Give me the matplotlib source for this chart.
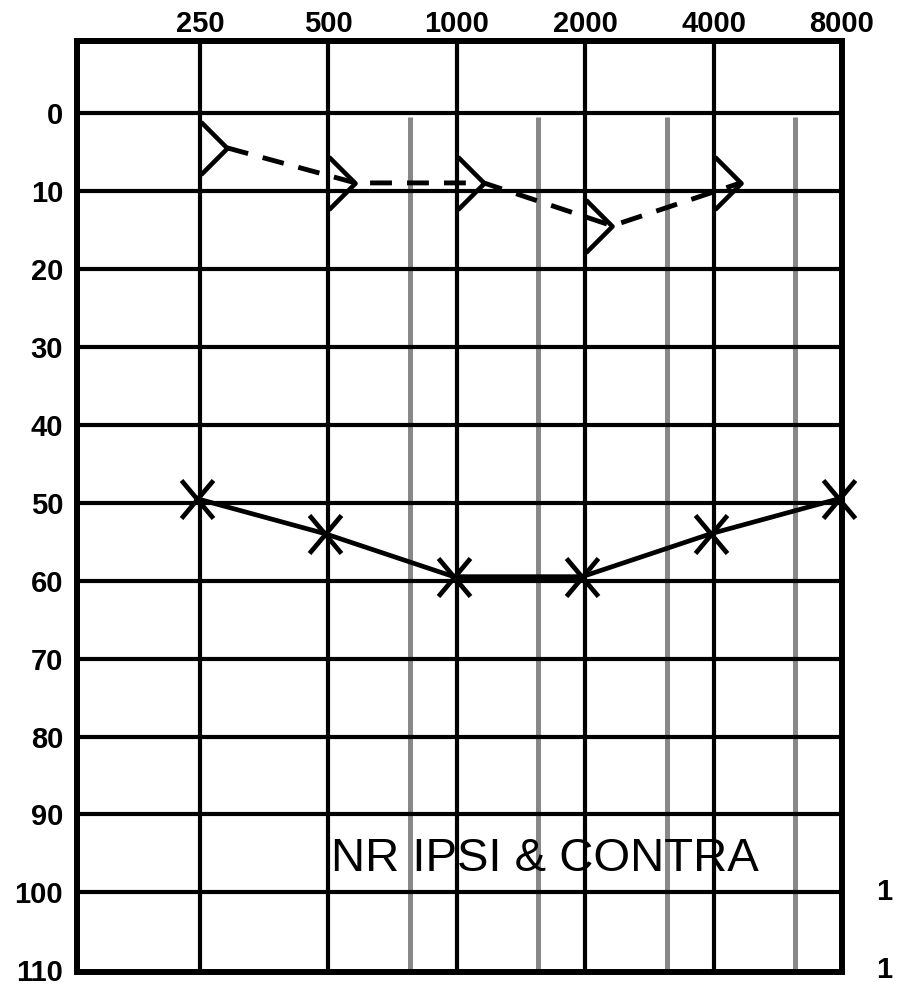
"""Audiogram: air conduction (X) and bone conduction (>)"""

import numpy as np
import matplotlib
matplotlib.use('Agg')
import matplotlib.pyplot as plt
from matplotlib.path import Path
from matplotlib.transforms import ScaledTranslation

plt.rcParams['font.family'] = ['Liberation Sans', 'DejaVu Sans']

# data
freqs = [250, 500, 1000, 2000, 4000, 8000]
freq_labels = ['250', '500', '1000', '2000', '4000', '8000']
inter_freqs = [750, 1500, 3000, 6000]
db_levels = [0, 10, 20, 30, 40, 50, 60, 70, 80, 90, 100, 110]

ac_freqs = [250, 500, 1000, 2000, 4000, 8000]
ac_left = [49.5, 54, 59.5, 59.5, 54, 49.5]

bc_freqs = [250, 500, 1000, 2000, 4000]
bc_left = [4.5, 9, 9, 14.5, 9]

note = 'NR IPSI & CONTRA'


def octave(f):
    '''frequency -> octave position (125 Hz = 0)'''
    return np.log2(np.asarray(f, dtype=float) / 125.0)


fig = plt.figure(figsize=(9.03, 9.89), dpi=100)
ax = fig.add_axes([77 / 903, 1 - 972 / 989, 765 / 903, 931 / 989])
ax.set_xlim(0.042, 6.0)
ax.set_ylim(110.2, -9.2)

# interoctave gray lines
ax.vlines(octave(inter_freqs) + 0.05, 0.5, 110.2, color='#888888',
          linewidth=3.6, zorder=1)

# black grid
for lvl in db_levels[:-1]:
    ax.axhline(lvl, color='black', linewidth=3.0, zorder=2)
for x in octave(freqs[:-1]):
    ax.axvline(x, color='black', linewidth=3.0, zorder=2)

for sp in ax.spines.values():
    sp.set_linewidth(4.3)
    sp.set_zorder(4)

# ticks
ax.xaxis.tick_top()
ax.set_xticks(octave(freqs))
ax.set_xticklabels(freq_labels, fontsize=21, fontweight='bold')
ax.set_yticks(db_levels)
ax.set_yticklabels([str(v) for v in db_levels], fontsize=21, fontweight='bold')
ax.tick_params(axis='both', length=0)
ax.tick_params(axis='x', pad=2)
ax.tick_params(axis='y', pad=10)

# clipped right-hand labels
for lvl in db_levels[-2:]:
    ax.text(1.045, lvl, '1', transform=ax.get_yaxis_transform(),
            fontsize=21, fontweight='bold', va='center', ha='left',
            clip_on=False)

# air conduction, left ear
x_marker = Path([(-0.42, -0.5), (0.42, 0.5), (-0.42, 0.5), (0.42, -0.5)],
                [Path.MOVETO, Path.LINETO, Path.MOVETO, Path.LINETO])
ac_shift = ax.transData + ScaledTranslation(-0.03, 0, fig.dpi_scale_trans)
ax.plot(octave(ac_freqs), ac_left, color='black', linewidth=3.4,
        marker=x_marker, markersize=27.4, markeredgewidth=3.4,
        markerfacecolor='none', transform=ac_shift, zorder=3,
        clip_on=False)

# bone conduction, left ear
bc_marker = Path([(-1, 1), (0, 0), (-1, -1)],
                 [Path.MOVETO, Path.LINETO, Path.LINETO])
bc_shift = ax.transData + ScaledTranslation(0.27, 0, fig.dpi_scale_trans)
ax.plot(octave(bc_freqs), bc_left, color='black', linewidth=3.5,
        linestyle=(0, (4.5, 3.1)),
        marker=bc_marker, markersize=38, markeredgewidth=3.3,
        markerfacecolor='none', transform=bc_shift, zorder=3)

ax.text(octave(500) + 0.02, 97.2, note, fontsize=34, va='baseline',
        ha='left', zorder=1.5)

fig.savefig('out.png', dpi=100)
